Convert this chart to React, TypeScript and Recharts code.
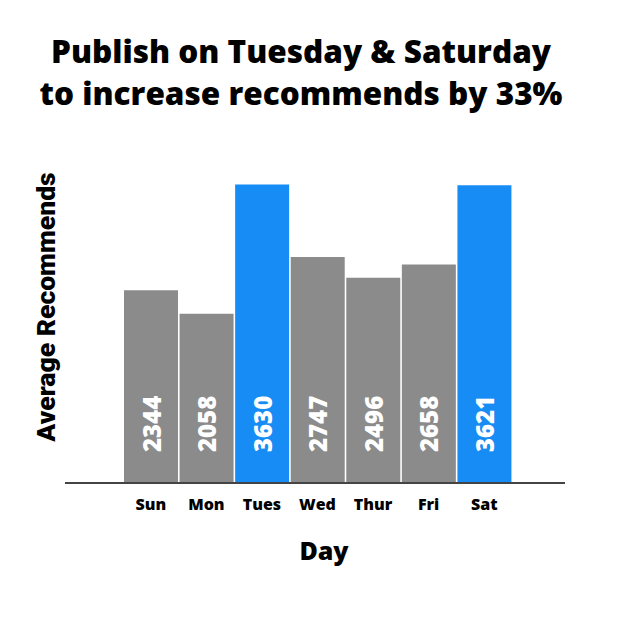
import { BarChart, Bar, XAxis, YAxis, Cell, LabelList } from "recharts";

const days = ["Sun", "Mon", "Tues", "Wed", "Thur", "Fri", "Sat"];
const recommends = [2344, 2058, 3630, 2747, 2496, 2658, 3621];
const highlighted = ["Tues", "Sat"];

const data = days.map((day, i) => ({ day, value: recommends[i] }));

const GRAY = "#8b8b8b";
const BLUE = "#178cf4";
const FONT = "'Open Sans', Lato, sans-serif";

function ValueLabel(props: any) {
  const { x, y, width, height, value } = props;
  const cx = x + width / 2;
  const by = y + height - 31;
  return (
    <text
      x={cx}
      y={by}
      transform={`rotate(-90, ${cx}, ${by})`}
      textAnchor="start"
      dominantBaseline="central"
      fill="#fff"
      fontFamily={FONT}
      fontWeight={800}
      fontSize={24}
    >
      {value}
    </text>
  );
}

export default function App() {
  return (
    <div style={{ position: "absolute", left: 0, top: 0, width: 630, height: 630, background: "#fff", fontFamily: FONT }}>
      <div
        style={{
          position: "absolute",
          left: 0,
          top: 30,
          width: 602,
          textAlign: "center",
          fontSize: 31.5,
          fontWeight: 800,
          lineHeight: "42px",
          color: "#000",
        }}
      >
        Publish on Tuesday &amp; Saturday
        <br />
        to increase recommends by 33%
      </div>
      <div
        style={{
          position: "absolute",
          left: 45,
          top: 307,
          transform: "translate(-50%, -50%) rotate(-90deg)",
          whiteSpace: "nowrap",
          fontFamily: "Roboto, 'DejaVu Sans', sans-serif",
          fontWeight: 900,
          fontSize: 26.5,
          color: "#000",
        }}
      >
        Average Recommends
      </div>
      <div
        style={{
          position: "absolute",
          left: 324,
          top: 550,
          transform: "translate(-50%, -50%)",
          fontSize: 25,
          fontWeight: 800,
          color: "#000",
        }}
      >
        Day
      </div>
      <BarChart
        width={630}
        height={630}
        data={data}
        margin={{ top: 154, right: 65, bottom: 87, left: 65 }}
        barCategoryGap={1}
        style={{ position: "absolute", left: 0, top: 0 }}
      >
        <YAxis hide domain={[0, 4000]} />
        <XAxis
          dataKey="day"
          height={60}
          padding={{ left: 58, right: 53 }}
          axisLine={{ stroke: "#444", strokeWidth: 2 }}
          tickLine={false}
          tickMargin={10}
          tick={{ fill: "#000", fontSize: 16, fontWeight: 800, fontFamily: FONT }}
          interval={0}
        />
        <Bar dataKey="value" isAnimationActive={false}>
          {data.map((d) => (
            <Cell key={d.day} fill={highlighted.includes(d.day) ? BLUE : GRAY} />
          ))}
          <LabelList dataKey="value" content={ValueLabel} />
        </Bar>
      </BarChart>
    </div>
  );
}
